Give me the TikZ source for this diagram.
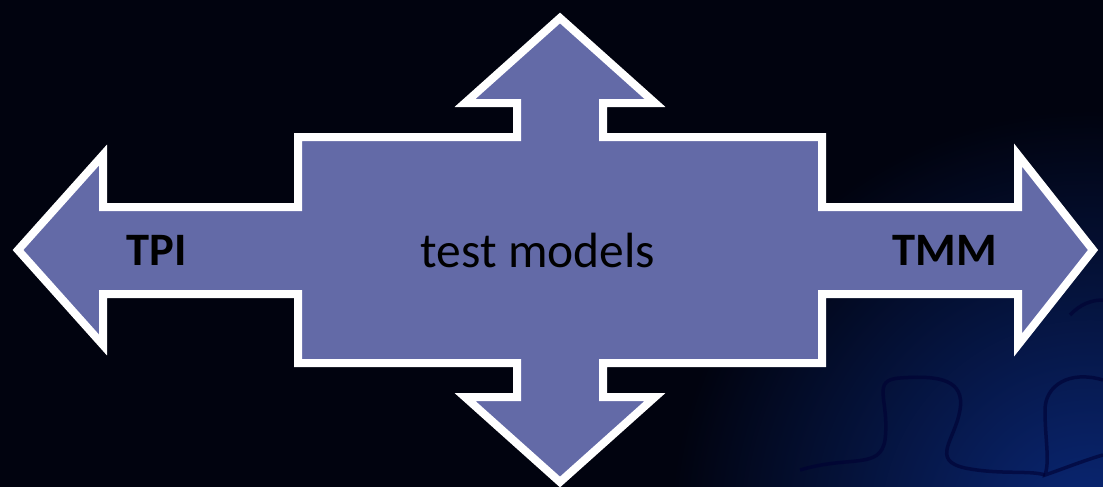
\documentclass[tikz,border=0pt]{standalone}
\usepackage{fontspec}
\setmainfont{Carlito}
\begin{document}
\begin{tikzpicture}[x=1pt,y=-1pt,
  arrowshape/.style={fill=arrowfill, draw=white, line width=8pt, line join=miter, miter limit=10},
  boldlabel/.style={font=\fontsize{46.5}{52}\selectfont\bfseries, text=black, inner sep=0pt},
  plainlabel/.style={font=\fontsize{49.5}{56}\selectfont, text=black, inner sep=0pt},
  puzzle/.style={draw=black!80!blue, line width=3.5pt, opacity=0.6}]
\definecolor{arrowfill}{HTML}{636AA7}
\definecolor{bgdark}{HTML}{01030F}
\definecolor{bgblue}{HTML}{0A2878}
% background
\useasboundingbox (0,0) rectangle (1103,487);
\fill[bgdark] (0,0) rectangle (1103,487);
\begin{scope}
  \clip (0,0) rectangle (1103,487);
  \shade[inner color=bgblue, outer color=bgdark] (1090,530) circle (420);
  % puzzle piece outlines
  \draw[puzzle] (800,470) .. controls (850,455) and (880,470) .. (885,440)
     .. controls (890,400) and (870,380) .. (900,378)
     .. controls (940,375) and (965,380) .. (960,410)
     .. controls (955,440) and (930,460) .. (965,468)
     .. controls (1000,475) and (1030,470) .. (1045,475);
  \draw[puzzle] (1103,380) .. controls (1070,370) and (1045,385) .. (1045,410)
     .. controls (1045,440) and (1050,460) .. (1045,475)
     .. controls (1060,470) and (1085,460) .. (1103,455);
  \draw[puzzle] (1103,300) .. controls (1085,300) and (1075,310) .. (1070,315);
\end{scope}
% four-way arrow
\coordinate (c) at (560,250);
\draw[arrowshape]
  (298,137) -- (517,137) -- (517,103) -- (465,103) -- (560,18) -- (655,103)
  -- (603,103) -- (603,137) -- (822,137) -- (822,207) -- (1018,207)
  -- (1018,155) -- (1093,250) -- (1018,345) -- (1018,294) -- (822,294)
  -- (822,363) -- (603,363) -- (603,397) -- (655,397) -- (560,482)
  -- (465,397) -- (517,397) -- (517,363) -- (298,363) -- (298,294)
  -- (103,294) -- (103,345) -- (18,250) -- (103,155) -- (103,207)
  -- (298,207) -- cycle;
\node[boldlabel] (tpi) at (157,250) {TPI};
\node[plainlabel] (tm) at (538,250) {test models};
\node[boldlabel] (tmm) at (945,250) {TMM};
\end{tikzpicture}
\end{document}
